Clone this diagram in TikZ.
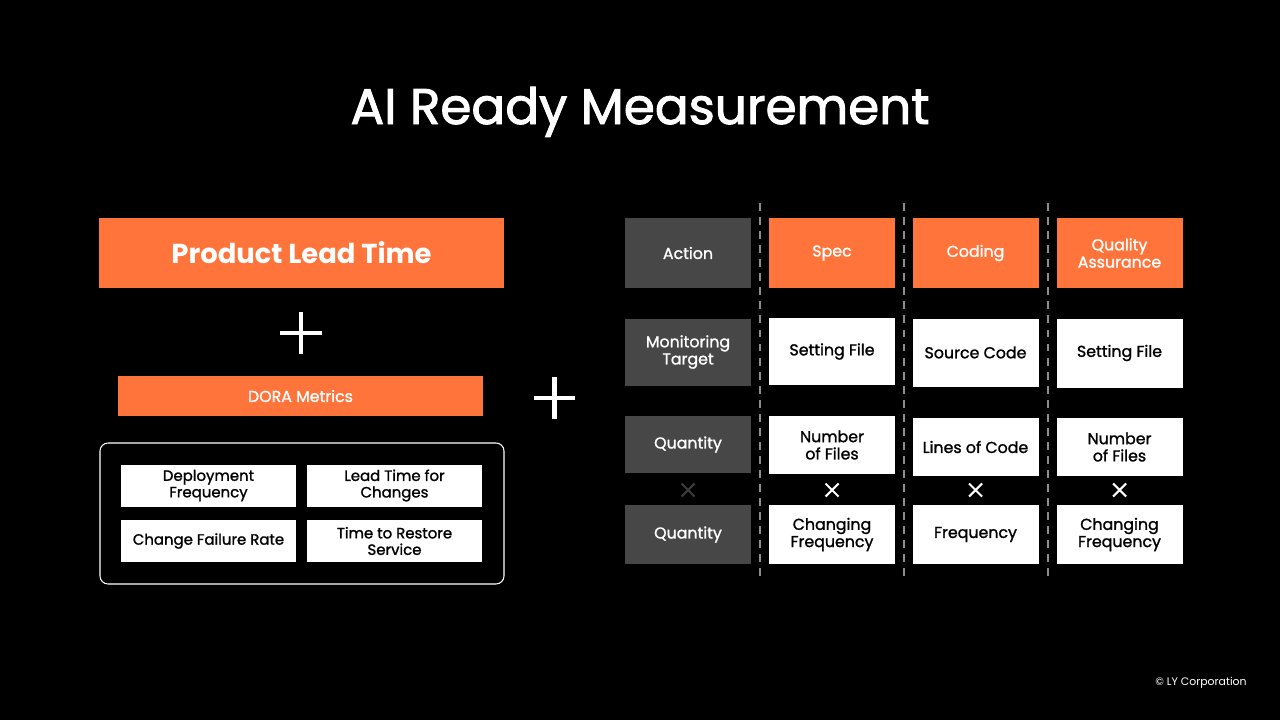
\documentclass[tikz,border=0pt]{standalone}
\usepackage{fontspec}
\setmainfont{Poppins}
\newfontfamily\medfont[FakeBold=1.3]{Poppins}
\newfontfamily\titlefont[FakeBold=1.9]{Poppins}
\usepackage{tikz}
\usetikzlibrary{positioning}
\definecolor{lyorange}{HTML}{FF743A}
\definecolor{slate}{HTML}{474747}
\definecolor{dashgray}{HTML}{8C8C8C}
\definecolor{crossgray}{HTML}{3C3C3C}
\def\px{0.02cm}

\begin{document}
\begin{tikzpicture}[x=0.02cm,y=-0.02cm,
  every node/.style={inner sep=0pt,align=center},
  orangebox/.style={fill=lyorange,text=white},
  greybox/.style={fill=slate,text=white},
  whitebox/.style={fill=white,text=black},
  cell/.style={minimum width=126*\px,font=\medfont\fontsize{9}{9.8}\selectfont},
  metric/.style={whitebox,minimum width=175*\px,minimum height=42*\px,font=\medfont\fontsize{8.5}{9.4}\selectfont},
  plus/.style={white,line width=2.4pt},
  sep/.style={dashgray,line width=1.1pt,dash pattern=on 4.5pt off 3.5pt},
  cross/.style={line width=1.2pt}]
  \fill[black] (0,0) rectangle (1280,720);
  % title
  \node[text=white,font=\titlefont\fontsize{28.5}{32}\selectfont,anchor=base] (title) at (640,124) {AI Ready Measurement};
  % left: lead time + dora
  \node[orangebox,minimum width=405*\px,minimum height=70*\px,font=\bfseries\fontsize{15.6}{17}\selectfont] (plt) at (301.5,253) {Product Lead Time};
  \draw[plus] (280,333) -- (322,333) (301,312) -- (301,354);
  \node[orangebox,minimum width=365*\px,minimum height=40*\px,font=\medfont\fontsize{9}{10}\selectfont] (dora) at (300.5,396) {DORA Metrics};
  \node[draw=white,line width=0.6pt,rounded corners=0.16cm,minimum width=404*\px,minimum height=141*\px] (doraset) at (302,513.5) {};
  \node[metric] (deploy) at (208.5,485.5) {Deployment\\Frequency};
  \node[metric] (leadchg) at (394.5,485.5) {Lead Time for\\Changes};
  \node[metric] (cfr) at (208.5,541) {Change Failure Rate};
  \node[metric] (restore) at (394.5,541) {Time to Restore\\Service};
  % big plus between the halves
  \draw[plus] (534,398) -- (575,398) (554.5,377) -- (554.5,419);
  % right: table
  \foreach \x in {760,904,1048}
    \draw[sep] (\x,203) -- (\x,582);
  % row: action
  \node[greybox,cell,minimum height=70*\px] (action) at (688,253) {Action};
  \node[orangebox,cell,minimum height=70*\px] (spec) at (832,253) {Spec};
  \node[orangebox,cell,minimum height=70*\px] (coding) at (975.5,253) {Coding};
  \node[orangebox,cell,minimum height=70*\px] (qa) at (1119.5,253) {Quality\\Assurance};
  % row: monitoring target
  \node[greybox,cell,minimum height=67*\px] (target) at (688,352) {Monitoring\\Target};
  \node[whitebox,cell,minimum height=67*\px] (specfile) at (832,351.5) {Setting File};
  \node[whitebox,cell,minimum height=68*\px] (srccode) at (975.5,352.5) {Source Code};
  \node[whitebox,cell,minimum height=69*\px] (qafile) at (1119.5,353) {Setting File};
  % row: quantity
  \node[greybox,cell,minimum height=57*\px] (qty) at (688,444.5) {Quantity};
  \node[whitebox,cell,minimum height=58*\px] (specnum) at (832,445) {Number\\of Files};
  \node[whitebox,cell,minimum height=58*\px] (loc) at (975.5,447) {Lines of Code};
  \node[whitebox,cell,minimum height=58*\px] (qanum) at (1119.5,447) {Number\\of Files};
  % multiply marks
  \foreach \x/\c in {688/crossgray,832/white,975.5/white,1119.5/white}
    \draw[cross,\c] (\x-6.5,483.5) -- (\x+6.5,496.5) (\x-6.5,496.5) -- (\x+6.5,483.5);
  % row: frequency
  \node[greybox,cell,minimum height=59*\px] (qty2) at (688,534.5) {Quantity};
  \node[whitebox,cell,minimum height=59*\px] (specfreq) at (832,534.5) {Changing\\Frequency};
  \node[whitebox,cell,minimum height=59*\px] (codefreq) at (975.5,534.5) {Frequency};
  \node[whitebox,cell,minimum height=59*\px] (qafreq) at (1119.5,534.5) {Changing\\Frequency};
  % footer
  \node[text=white,font=\fontsize{6.2}{7}\selectfont,anchor=east] (copy) at (1247,683) {© LY Corporation};
\end{tikzpicture}
\end{document}
